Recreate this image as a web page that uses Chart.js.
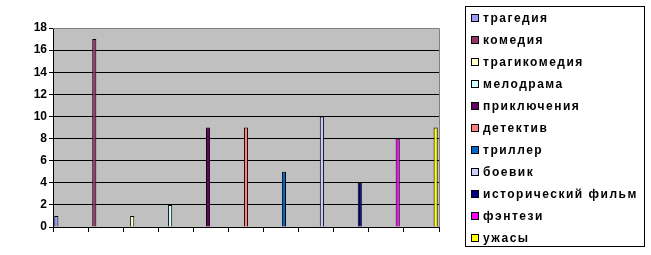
<!DOCTYPE html>
<html>
<head>
<meta charset="utf-8">
<script src="https://cdn.jsdelivr.net/npm/chart.js@4/dist/chart.umd.min.js"></script>
<style>
  body { margin: 0; background: #fff; }
  #wrap { position: relative; width: 651px; height: 255px; }
  #legend {
    position: absolute; left: 465px; top: 6px; width: 180px; height: 241px;
    border: 1px solid #000; box-sizing: border-box; margin: 0; padding: 0; list-style: none;
    font: bold 12px "Liberation Sans", Arial, sans-serif; letter-spacing: 1.5px; color: #000;
  }
  #legend li { height: 22px; display: flex; align-items: center; padding-left: 5px; white-space: nowrap; }
  #legend span.box { width: 6px; height: 6px; border: 1px solid #000; margin-right: 4px; flex: none; }
</style>
</head>
<body>
<div id="wrap">
  <canvas id="grafico" width="651" height="255"></canvas>
  <ul id="legend"></ul>
</div>
<script>
// Datos del gráfico
const genres = ['трагедия', 'комедия', 'трагикомедия', 'мелодрама', 'приключения', 'детектив',
  'триллер', 'боевик', 'исторический фильм', 'фэнтези', 'ужасы'];
const counts = [1, 17, 1, 2, 9, 9, 5, 10, 4, 8, 9];
const colors = ['#9999FF', '#993366', '#FFFFCC', '#CCFFFF', '#660066', '#FF8080',
  '#0066CC', '#CCCCFF', '#000080', '#FF00FF', '#FFFF00'];
const yMax = 18;
const yStep = 2;

// cada serie tiene valor sólo en su propia categoría
const datasets = genres.map((g, i) => ({
  label: g,
  data: genres.map((_, j) => (j === i ? counts[i] : null)),
  backgroundColor: colors[i],
  borderColor: '#000',
  borderWidth: 1,
  borderSkipped: 'bottom'
}));

const plotArea = {
  id: 'plotArea',
  beforeDraw(chart) {
    const { ctx, chartArea: a } = chart;
    ctx.save();
    ctx.fillStyle = '#C0C0C0';
    ctx.fillRect(a.left, a.top, a.right - a.left, a.bottom - a.top);
    ctx.restore();
  },
  afterDraw(chart) {
    const { ctx, chartArea: a } = chart;
    ctx.save();
    ctx.strokeStyle = '#808080';
    ctx.lineWidth = 1;
    ctx.beginPath();
    ctx.moveTo(a.left, a.top + 0.5);
    ctx.lineTo(a.right + 0.5, a.top + 0.5);
    ctx.lineTo(a.right + 0.5, a.bottom);
    ctx.stroke();
    ctx.restore();
  }
};

const htmlLegend = {
  id: 'htmlLegend',
  afterUpdate(chart) {
    const ul = document.getElementById('legend');
    ul.innerHTML = '';
    chart.data.datasets.forEach(ds => {
      const li = document.createElement('li');
      const box = document.createElement('span');
      box.className = 'box';
      box.style.background = ds.backgroundColor;
      li.appendChild(box);
      li.appendChild(document.createTextNode(ds.label));
      ul.appendChild(li);
    });
  }
};

const ctx = document.getElementById('grafico').getContext('2d');
new Chart(ctx, {
  type: 'bar',
  data: { labels: genres, datasets: datasets },
  options: {
    responsive: false,
    animation: false,
    layout: { padding: { top: 28, right: 212, left: 0, bottom: 0 } },
    datasets: { bar: { categoryPercentage: 0.89, barPercentage: 1.45 } },
    plugins: { legend: { display: false }, tooltip: { enabled: false } },
    scales: {
      x: {
        offset: true,
        afterFit(scale) { scale.height = 28; },
        grid: { drawOnChartArea: false, drawTicks: true, tickLength: 5, color: '#000', tickColor: '#000' },
        border: { color: '#000', width: 1 },
        ticks: { display: false }
      },
      y: {
        min: 0,
        max: yMax,
        afterFit(scale) { scale.width = 53; },
        ticks: {
          stepSize: yStep,
          padding: 2,
          color: '#000',
          font: { family: '"Liberation Sans", Arial, sans-serif', size: 12, weight: 'bold' }
        },
        grid: {
          color: c => (c.tick && c.tick.value === yMax ? 'rgba(0,0,0,0)' : '#000'),
          tickColor: '#000',
          tickLength: 4
        },
        border: { color: '#000', width: 1 }
      }
    }
  },
  plugins: [plotArea, htmlLegend]
});
</script>
</body>
</html>
